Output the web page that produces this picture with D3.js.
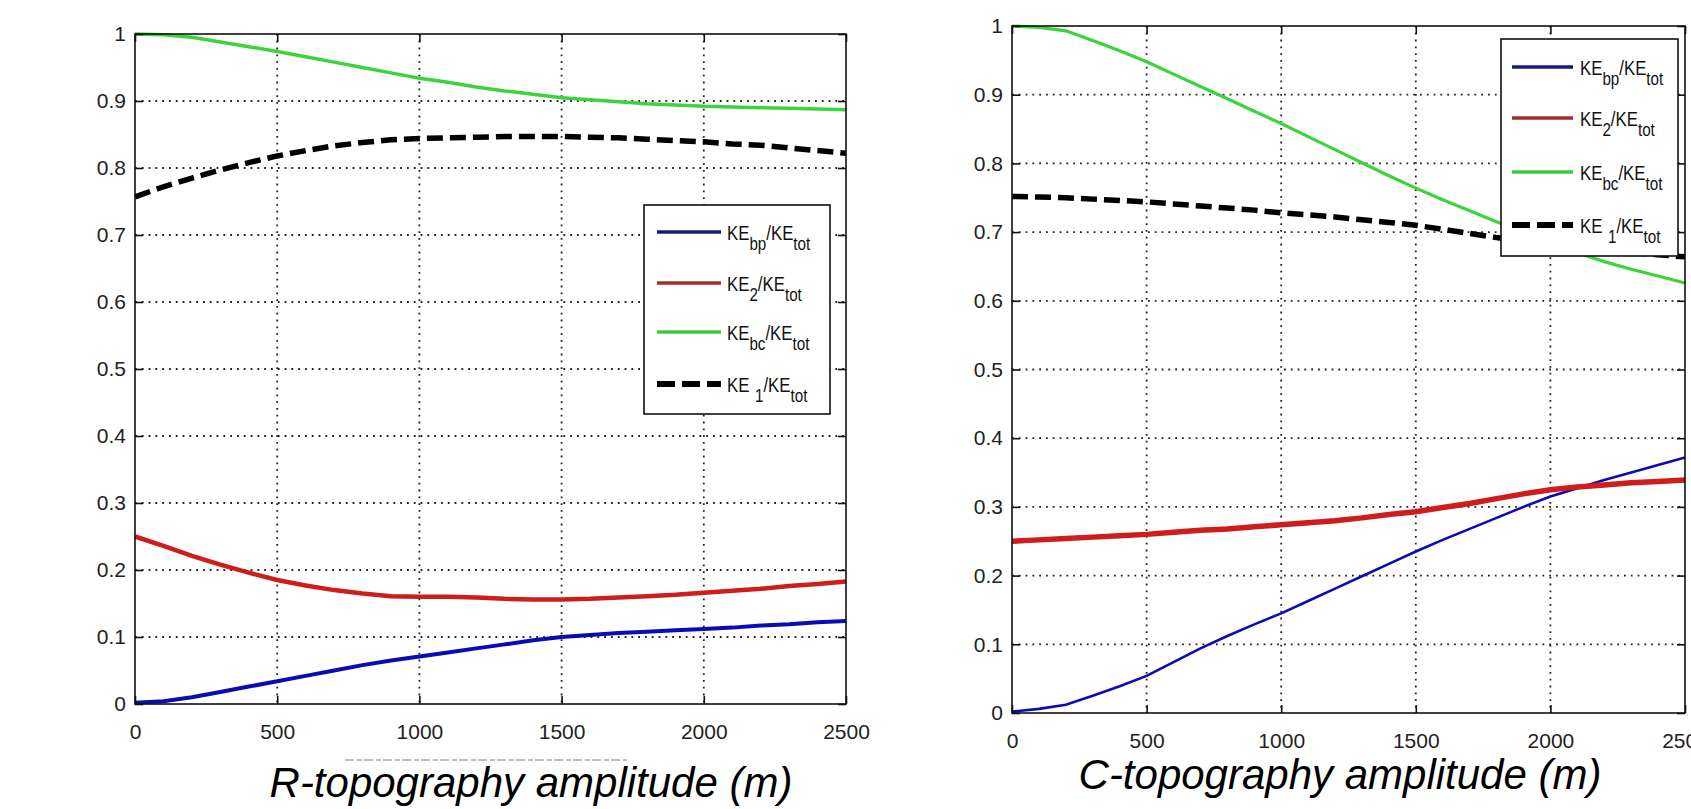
<!DOCTYPE html>
<html lang="en">
<head>
<meta charset="UTF-8">
<title>KE ratios vs topography amplitude</title>
<script src="https://d3js.org/d3.v7.min.js"></script>
<style>
  body { margin: 0; background: #fff; }
  svg { display: block; }
  .tick text { font-family: "Liberation Sans", Arial, sans-serif; font-size: 21px; fill: #222; }
  .legend text { font-family: "Liberation Sans", Arial, sans-serif; font-size: 21px; fill: #111; }
  .title { font-family: "Liberation Sans", Arial, sans-serif; font-style: italic; font-size: 42px; fill: #000; }
</style>
</head>
<body>
<script>
// amplitude (m), every 100 m
const amplitude = [0,100,200,300,400,500,600,700,800,900,1000,1100,1200,1300,1400,1500,1600,1700,1800,1900,2000,2100,2200,2300,2400,2500];

// R-topography
const rKEbp = [0.002,0.004,0.010,0.018,0.026,0.034,0.042,0.050,0.058,0.065,0.071,0.077,0.083,0.089,0.095,0.100,0.103,0.106,0.108,0.110,0.112,0.114,0.117,0.119,0.122,0.124];
const rKE2  = [0.250,0.236,0.221,0.208,0.196,0.185,0.177,0.170,0.165,0.161,0.160,0.160,0.159,0.157,0.156,0.156,0.157,0.159,0.161,0.163,0.166,0.169,0.172,0.176,0.179,0.183];
const rKEbc = [1.000,0.999,0.995,0.988,0.981,0.974,0.966,0.958,0.950,0.942,0.934,0.928,0.921,0.915,0.910,0.905,0.902,0.899,0.896,0.894,0.892,0.891,0.890,0.889,0.888,0.887];
const rKE1  = [0.757,0.772,0.785,0.797,0.808,0.818,0.826,0.833,0.838,0.842,0.844,0.845,0.846,0.847,0.847,0.847,0.846,0.845,0.843,0.841,0.839,0.836,0.834,0.830,0.826,0.822];

// C-topography
const cKEbp = [0.002,0.006,0.012,0.025,0.039,0.054,0.074,0.094,0.112,0.129,0.145,0.163,0.181,0.199,0.217,0.235,0.252,0.268,0.284,0.300,0.315,0.327,0.339,0.350,0.361,0.372];
const cKE2  = [0.250,0.252,0.254,0.256,0.258,0.260,0.263,0.266,0.268,0.271,0.274,0.277,0.280,0.284,0.289,0.293,0.299,0.305,0.312,0.319,0.325,0.329,0.332,0.335,0.337,0.339];
const cKEbc = [1.000,0.998,0.993,0.979,0.964,0.948,0.930,0.912,0.894,0.876,0.858,0.839,0.820,0.801,0.782,0.764,0.747,0.731,0.715,0.700,0.685,0.670,0.657,0.646,0.636,0.626];
const cKE1  = [0.752,0.751,0.750,0.748,0.746,0.744,0.741,0.738,0.735,0.732,0.728,0.725,0.722,0.718,0.714,0.710,0.704,0.698,0.692,0.687,0.682,0.678,0.674,0.670,0.667,0.664];

const xTicks = [0,500,1000,1500,2000,2500];
const yTicks = [0,0.1,0.2,0.3,0.4,0.5,0.6,0.7,0.8,0.9,1];
const yTickLabels = ["0","0.1","0.2","0.3","0.4","0.5","0.6","0.7","0.8","0.9","1"];
const legendSubs = ["bp","2","bc","1"];
const titles = ["R-topography amplitude (m)","C-topography amplitude (m)"];

const W = 1691, H = 809;
const svg = d3.select("body").append("svg").attr("width", W).attr("height", H);

const styles = [
  {color: "#0b0bb4", legend: "#1a1a7a", dash: null},
  {color: "#cf1c1c", legend: "#a03030", dash: null},
  {color: "#3cd43c", legend: "#3cc83c", dash: null},
  {color: "#000000", legend: "#000000", dash: "16,7"}
];

function drawPanel(p) {
  const x = d3.scaleLinear().domain([0, 2500]).range([p.left, p.right]);
  const y = d3.scaleLinear().domain([0, 1]).range([p.bottom, p.top]);
  const g = svg.append("g");

  // dotted grid
  g.selectAll(".gx").data(xTicks.slice(1, -1)).enter().append("line")
    .attr("x1", d => x(d)).attr("x2", d => x(d))
    .attr("y1", p.top).attr("y2", p.bottom)
    .attr("stroke", "#222").attr("stroke-width", 1.8).attr("stroke-dasharray", "1.8,5");
  g.selectAll(".gy").data(yTicks.slice(1, -1)).enter().append("line")
    .attr("y1", d => y(d)).attr("y2", d => y(d))
    .attr("x1", p.left).attr("x2", p.right)
    .attr("stroke", "#222").attr("stroke-width", 1.8).attr("stroke-dasharray", "1.8,5");

  // series
  const series = [p.bp, p.ke2, p.bc, p.ke1];
  const line = d3.line().x((d, i) => x(amplitude[i])).y(d => y(d));
  series.forEach((s, k) => {
    g.append("path").datum(s)
      .attr("fill", "none")
      .attr("stroke", styles[k].color)
      .attr("stroke-width", p.widths[k])
      .attr("stroke-dasharray", styles[k].dash)
      .attr("d", line);
  });

  // axes with inward ticks
  const tk = 8;
  g.append("g").attr("transform", `translate(0,${p.bottom})`)
    .call(d3.axisBottom(x).tickValues(xTicks).tickSizeInner(-tk).tickSizeOuter(0).tickPadding(20)
      .tickFormat(d3.format("d")));
  g.append("g").attr("transform", `translate(0,${p.top})`)
    .call(d3.axisTop(x).tickValues(xTicks).tickSizeInner(-tk).tickSizeOuter(0).tickFormat(""));
  g.append("g").attr("transform", `translate(${p.left},0)`)
    .call(d3.axisLeft(y).tickValues(yTicks).tickSizeInner(-tk).tickSizeOuter(0).tickPadding(9)
      .tickFormat((d, i) => yTickLabels[i]));
  g.append("g").attr("transform", `translate(${p.right},0)`)
    .call(d3.axisRight(y).tickValues(yTicks).tickSizeInner(-tk).tickSizeOuter(0).tickFormat(""));
  g.selectAll(".domain").remove();
  g.selectAll(".tick line").attr("stroke", "#111").attr("stroke-width", 1.6);

  g.append("rect")
    .attr("x", p.left).attr("y", p.top)
    .attr("width", p.right - p.left).attr("height", p.bottom - p.top)
    .attr("fill", "none").attr("stroke", "#111").attr("stroke-width", 1.6);

  // legend
  const lg = g.append("g").attr("class", "legend");
  lg.append("rect")
    .attr("x", p.leg.x).attr("y", p.leg.y)
    .attr("width", p.leg.w).attr("height", p.leg.h)
    .attr("fill", "#fff").attr("stroke", "#111").attr("stroke-width", 1.6);
  p.leg.rows.forEach((ry, k) => {
    lg.append("line")
      .attr("x1", p.leg.lx1).attr("x2", p.leg.lx2).attr("y1", ry).attr("y2", ry)
      .attr("stroke", styles[k].legend)
      .attr("stroke-width", k === 3 ? 6 : 3.5)
      .attr("stroke-dasharray", k === 3 ? "18,7" : null);
    // narrow glyphs, as in the original legend
    const t = lg.append("text")
      .attr("transform", `translate(${p.leg.tx},${ry + 8}) scale(0.8,1)`);
    t.append("tspan").text("KE");
    t.append("tspan").attr("dy", 10).attr("dx", k === 3 ? 7 : 0).attr("font-size", 19).text(legendSubs[k]);
    t.append("tspan").attr("dy", -10).text("/KE");
    t.append("tspan").attr("dy", 10).attr("font-size", 19).text("tot");
  });

  svg.append("text").attr("class", "title")
    .attr("x", p.titleX).attr("y", p.titleY).attr("text-anchor", "middle")
    .text(p.title);
}

drawPanel({
  left: 135, right: 846, top: 34, bottom: 704,
  bp: rKEbp, ke2: rKE2, bc: rKEbc, ke1: rKE1,
  widths: [4, 4.5, 3.5, 5.5],
  leg: {x: 644, y: 205, w: 186, h: 209, rows: [232, 283, 332, 384], lx1: 657, lx2: 721, tx: 727},
  title: titles[0], titleX: 531, titleY: 797
});

drawPanel({
  left: 1012, right: 1685, top: 26, bottom: 713,
  bp: cKEbp, ke2: cKE2, bc: cKEbc, ke1: cKE1,
  widths: [2.6, 5.5, 3.2, 5.5],
  leg: {x: 1501, y: 39, w: 177, h: 217, rows: [67, 118, 172, 225], lx1: 1512, lx2: 1573, tx: 1580},
  title: titles[1], titleX: 1340, titleY: 789
});

// faint remnant of a clipped label under the left axis
svg.append("line").attr("x1", 345).attr("x2", 627).attr("y1", 760).attr("y2", 760)
  .attr("stroke", "#aaa").attr("stroke-width", 1.5).attr("stroke-dasharray", "9,3,5,2");
</script>
</body>
</html>
